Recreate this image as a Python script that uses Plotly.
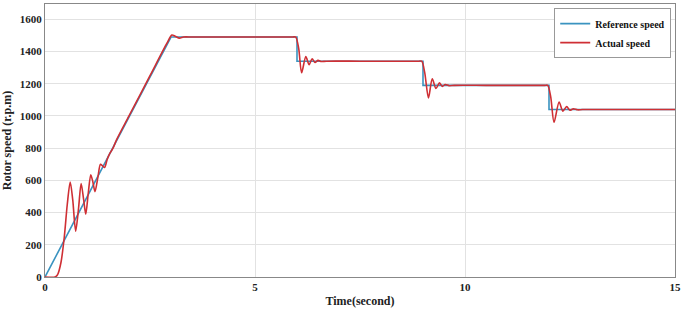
import plotly.graph_objects as go

# Reference speed (r.p.m) vs time (s)
ref_t = [0, 3, 6, 6, 9, 9, 12, 12, 15]
ref_v = [0, 1490, 1490, 1340, 1340, 1190, 1190, 1040, 1040]

# Actual speed (r.p.m) vs time (s)
act_t = [0, 0.24, 0.30, 0.38, 0.46, 0.53, 0.60, 0.66, 0.73, 0.80, 0.86, 0.92, 0.97,
         1.03, 1.09, 1.14, 1.19, 1.26, 1.32, 1.37, 1.42, 1.48, 1.55, 1.62, 1.70,
         2.0, 2.5, 2.9, 3.02, 3.1, 3.2, 3.3, 3.5, 4.5, 5.5, 5.9, 5.97,
         6.04, 6.11, 6.21, 6.29, 6.36, 6.43, 6.5, 6.58, 6.7, 7.5, 8.5, 8.9, 8.97,
         9.04, 9.13, 9.22, 9.31, 9.39, 9.46, 9.53, 9.62, 9.75, 10.5, 11.5, 11.9, 11.97,
         12.04, 12.12, 12.24, 12.33, 12.42, 12.5, 12.58, 12.68, 12.8, 13.5, 14.5, 15]
act_v = [0, 0, 15, 90, 250, 450, 590, 480, 285, 430, 580, 480, 390,
         520, 635, 590, 530, 620, 700, 690, 680, 730, 770, 800, 850,
         1000, 1250, 1450, 1502, 1495, 1483, 1490, 1490, 1490, 1490, 1490, 1490,
         1420, 1268, 1368, 1318, 1355, 1332, 1345, 1338, 1340, 1340, 1340, 1340, 1340,
         1270, 1112, 1230, 1170, 1205, 1183, 1195, 1188, 1190, 1190, 1190, 1190, 1190,
         1120, 960, 1087, 1030, 1058, 1035, 1045, 1038, 1040, 1040, 1040, 1040]

x_ticks = [0, 5, 10, 15]
y_ticks = [0, 200, 400, 600, 800, 1000, 1200, 1400, 1600]

FONT = "Liberation Serif"

fig = go.Figure()
fig.add_trace(go.Scatter(x=ref_t, y=ref_v, mode="lines", name="Reference speed",
                         line=dict(color="#3a93c0", width=1.6)))
fig.add_trace(go.Scatter(x=act_t, y=act_v, mode="lines", name="Actual speed",
                         line=dict(color="#cf2f34", width=1.6, shape="spline", smoothing=0.8)))

fig.update_layout(
    width=685, height=310,
    margin=dict(l=45, r=10, t=4, b=33),
    paper_bgcolor="white", plot_bgcolor="white",
    font=dict(family=FONT, color="#222", size=11, weight="bold"),
    legend=dict(x=0.994, y=0.985, xanchor="right", yanchor="top",
                bgcolor="white", bordercolor="#999", borderwidth=1,
                font=dict(family=FONT, size=10, weight="bold", color="#111"),
                tracegroupgap=0, itemwidth=30),
    showlegend=True,
)
fig.update_xaxes(range=[0, 15], tickvals=x_ticks, showgrid=True, gridcolor="#e2e2e2",
                 showline=True, mirror=True, linecolor="#888", linewidth=1, zeroline=False,
                 ticks="", tickfont=dict(family=FONT, size=11, weight="bold"),
                 title=dict(text="Time(second)", standoff=4,
                            font=dict(family=FONT, size=12, weight="bold")))
fig.update_yaxes(range=[0, 1695], tickvals=y_ticks, showgrid=True, gridcolor="#e2e2e2",
                 showline=True, mirror=True, linecolor="#888", linewidth=1, zeroline=False,
                 ticks="", tickfont=dict(family=FONT, size=11, weight="bold"),
                 title=dict(text="Rotor speed (r.p.m)", standoff=6,
                            font=dict(family=FONT, size=12, weight="bold")))

fig.write_html("out.html", config={"displayModeBar": False},
               post_script="document.body.style.margin='0';")
